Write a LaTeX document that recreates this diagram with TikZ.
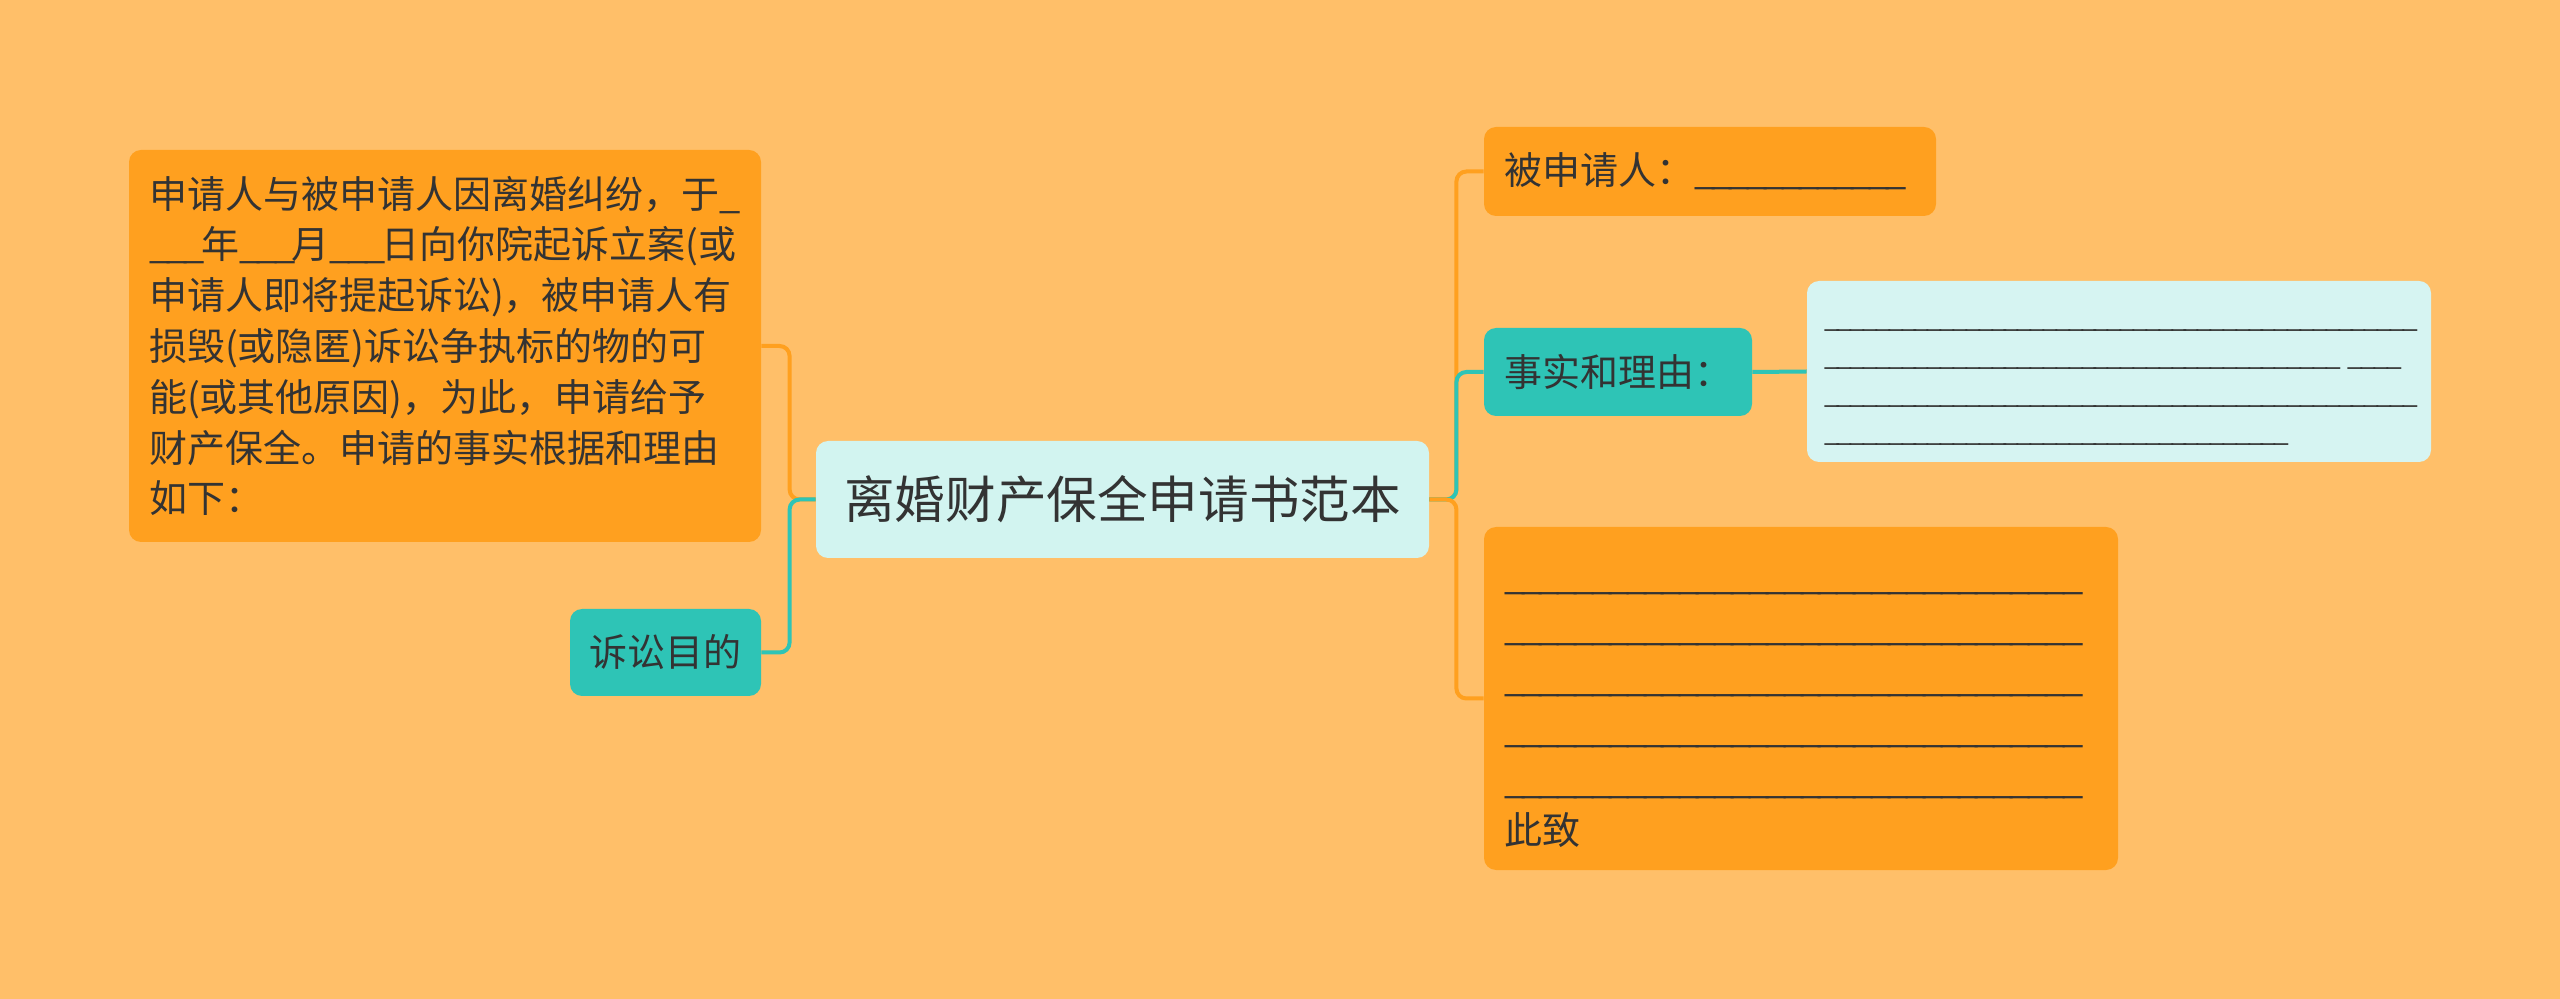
\documentclass[tikz,border=0pt]{standalone}
\usepackage{fontspec}
\setmainfont{Noto Sans CJK SC}
\usepackage{tikz}
\definecolor{mmbg}{HTML}{FFBF69}
\definecolor{mmorange}{HTML}{FFA01F}
\definecolor{mmteal}{HTML}{2EC4B6}
\definecolor{mmroot}{HTML}{D2F4F0}
\definecolor{mmpale}{HTML}{D6F4F2}
\definecolor{mmtext}{HTML}{333333}
\newcommand{\fillblank}[1]{\foreach \k in {1,...,#1}{\_\kern-0.1em}}
\tikzset{
  topic/.style={rounded corners=6pt, inner sep=0pt, text=mmtext, align=center,
    font=\fontsize{19}{25.4}\selectfont},
  link/.style={line width=2pt, rounded corners=5pt}
}

\begin{document}
\begin{tikzpicture}[x=0.5pt, y=-0.5pt]
  \fill[mmbg] (0,0) rectangle (2560,999);
  % left side
  \node[topic, fill=mmorange, minimum width=316pt, minimum height=196pt, text width=296pt, align=left] (facts) at (445,346)
    {申请人与被申请人因离婚纠纷，于\fillblank{1}\\
     \fillblank{3}年\fillblank{3}月\fillblank{3}日向你院起诉立案(或\\
     申请人即将提起诉讼)，被申请人有\\
     损毁(或隐匿)诉讼争执标的物的可\\
     能(或其他原因)，为此，申请给予\\
     财产保全。申请的事实根据和理由\\
     如下：};
  \node[topic, fill=mmteal, minimum width=95.5pt, minimum height=43.5pt] (goal) at (665.5,652.5) {诉讼目的};
  % centre
  \node[topic, fill=mmroot, minimum width=306.5pt, minimum height=58.5pt, font=\fontsize{25.3}{30}\selectfont] (root) at (1122.5,499.5) {离婚财产保全申请书范本};
  % right side
  \node[topic, fill=mmorange, minimum width=226pt, minimum height=44.5pt, text width=206pt, align=left] (respondent) at (1710,171.5)
    {被申请人：\fillblank{12}};
  \node[topic, fill=mmteal, minimum width=134pt, minimum height=44pt] (reason) at (1618,372) {事实和理由：};
  \node[topic, fill=mmpale, minimum width=312pt, minimum height=90.5pt, text width=295pt, align=left, font=\fontsize{14}{19}\selectfont] (detail) at (2119,371.5)
    {\rule{0pt}{14.5pt}\fillblank{46}\\
     \fillblank{40} \fillblank{4}\\
     \fillblank{46}\\
     \fillblank{36}};
  \node[topic, fill=mmorange, minimum width=317pt, minimum height=171.5pt, text width=297pt, align=left, font=\fontsize{19}{25.5}\selectfont] (closing) at (1801,698.5)
    {\rule{0pt}{20pt}\fillblank{33}\\
     \fillblank{33}\\
     \fillblank{33}\\
     \fillblank{33}\\
     \fillblank{33}\\
     此致};
  % connectors
  \draw[link, mmorange] (root.west) -- ++(-26,0) |- (facts.east);
  \draw[link, mmteal] (root.west) -- ++(-26,0) |- (goal.east);
  \draw[link, mmorange] (root.east) -- ++(27,0) |- (respondent.west);
  \draw[link, mmteal] (root.east) -- ++(27,0) |- (reason.west);
  \draw[link, mmorange] (root.east) -- ++(27,0) |- (closing.west);
  \draw[link, mmteal] (reason.east) -- (detail.west);
\end{tikzpicture}
\end{document}
